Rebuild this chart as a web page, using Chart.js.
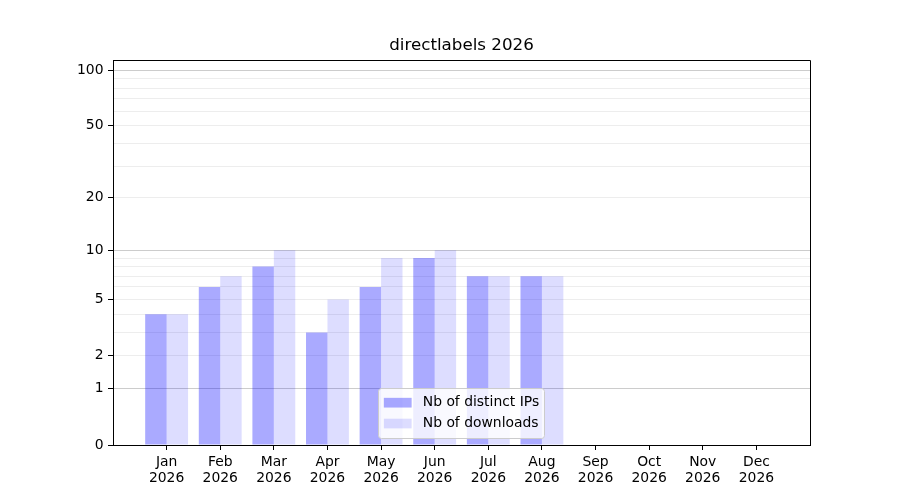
<!DOCTYPE html>
<html>
<head>
<meta charset="utf-8">
<script src="https://cdn.jsdelivr.net/npm/chart.js@4.4.1/dist/chart.umd.min.js"></script>
<style>
  html, body { margin: 0; padding: 0; background: #fff; }
</style>
</head>
<body>
<canvas id="myChart" width="900" height="500"></canvas>
<script>
const categories = ['Jan 2026', 'Feb 2026', 'Mar 2026', 'Apr 2026', 'May 2026', 'Jun 2026',
                    'Jul 2026', 'Aug 2026', 'Sep 2026', 'Oct 2026', 'Nov 2026', 'Dec 2026'];
const distinctIps = [4, 6, 8, 3, 6, 9, 7, 7, 0, 0, 0, 0];
const downloads = [4, 7, 10, 5, 9, 10, 7, 7, 0, 0, 0, 0];
const yTickLabels = [0, 1, 2, 5, 10, 20, 50, 100];
const yMajorGrid = [1, 10, 100];
const yMinorGrid = [2, 3, 4, 5, 6, 7, 8, 9, 20, 30, 40, 50, 60, 70, 80, 90];

Chart.defaults.font.family = "'DejaVu Sans', sans-serif";
Chart.defaults.color = '#000';

// value axis spaced like log10(v + 1), so 0 can sit at the bottom
class Log1pScale extends Chart.Scale {
    determineDataLimits() {
        const { min, max } = this.getMinMax(true);
        this.min = this.options.min ?? Math.min(0, min);
        this.max = this.options.max ?? max;
    }
    buildTicks() {
        const vals = [...new Set(this.options.values)].sort((a, b) => a - b);
        return vals.filter(v => v >= this.min && v <= this.max).map(v => ({ value: v }));
    }
    configure() {
        super.configure();
        this._start = Math.log10(this.min + 1);
        this._range = Math.log10(this.max + 1) - this._start;
    }
    getLabelForValue(v) {
        return String(v);
    }
    getPixelForValue(v) {
        if (v === undefined || v === null || isNaN(v)) return NaN;
        return this.getPixelForDecimal((Math.log10(v + 1) - this._start) / this._range);
    }
    getValueForPixel(p) {
        return Math.pow(10, this._start + this.getDecimalForPixel(p) * this._range) - 1;
    }
}
Log1pScale.id = 'log1p';
Log1pScale.defaults = {};
Chart.register(Log1pScale);

// top/right spines + matplotlib style legend box at lower center
const framePlugin = {
    id: 'frame',
    afterDraw(chart) {
        const { ctx, chartArea: a } = chart;
        ctx.save();
        ctx.strokeStyle = '#000';
        ctx.lineWidth = 1;
        ctx.beginPath();
        ctx.moveTo(Math.round(a.left) + 0.5, Math.round(a.top) + 0.5);
        ctx.lineTo(Math.round(a.right) + 0.5, Math.round(a.top) + 0.5);
        ctx.lineTo(Math.round(a.right) + 0.5, Math.round(a.bottom) + 0.5);
        ctx.stroke();

        const fs = 13.9;
        ctx.font = fs + "px 'DejaVu Sans', sans-serif";
        const sets = chart.data.datasets;
        const textW = Math.max(...sets.map(d => ctx.measureText(d.label).width));
        const pad = 0.4 * fs, handle = 2 * fs, gap = 0.8 * fs, rowGap = 0.5 * fs, rowH = fs;
        const w = pad * 2 + handle + gap + textW;
        const h = pad * 2 + rowH * sets.length + rowGap * (sets.length - 1) + 4;
        const x0 = (a.left + a.right) / 2 - w / 2;
        const y0 = a.bottom - 0.5 * fs - h;
        ctx.beginPath();
        ctx.roundRect(Math.round(x0) + 0.5, Math.round(y0) + 0.5, Math.round(w), Math.round(h), 3);
        ctx.fillStyle = 'rgba(255,255,255,0.8)';
        ctx.fill();
        ctx.strokeStyle = '#cccccc';
        ctx.stroke();
        ctx.textBaseline = 'middle';
        sets.forEach((d, i) => {
            const cy = y0 + pad + 2 + i * (rowH + rowGap) + rowH / 2;
            ctx.fillStyle = d.backgroundColor;
            ctx.fillRect(x0 + pad, cy - 0.35 * fs, handle, 0.7 * fs);
            ctx.fillStyle = '#000';
            ctx.fillText(d.label, x0 + pad + handle + gap, cy);
        });
        ctx.restore();
    }
};

const config = {
    type: 'bar',
    data: {
        datasets: [{
            label: 'Nb of distinct IPs',
            data: distinctIps.map((v, i) => ({ x: i, y: v })),
            backgroundColor: 'rgba(0, 0, 255, 0.333)',
            borderWidth: 0,
            barPercentage: 1,
            categoryPercentage: 0.8,
        }, {
            label: 'Nb of downloads',
            data: downloads.map((v, i) => ({ x: i, y: v })),
            backgroundColor: 'rgba(0, 0, 255, 0.133)',
            borderWidth: 0,
            barPercentage: 1,
            categoryPercentage: 0.8,
        }]
    },
    options: {
        responsive: false,
        animation: false,
        layout: { padding: { left: 0, right: 90, top: 0, bottom: 0 } },
        plugins: {
            legend: { display: false },
            tooltip: { enabled: false },
            title: {
                display: true,
                text: 'directlabels 2026',
                fullSize: false,
                color: '#000',
                font: { size: 16.7, weight: 'normal', lineHeight: 1.2 },
                padding: { top: 36, bottom: 4 }
            }
        },
        scales: {
            x: {
                type: 'linear',
                min: -1,
                max: 12,
                offset: false,
                grid: {
                    offset: false,
                    drawOnChartArea: false,
                    drawTicks: true,
                    tickLength: 5,
                    tickColor: '#000'
                },
                border: { display: true, color: '#000', width: 1 },
                ticks: {
                    autoSkip: false,
                    maxRotation: 0,
                    padding: 5,
                    color: '#000',
                    font: { size: 13.9, lineHeight: 1.1 },
                    callback: v => categories[v] ? categories[v].split(' ') : ''
                },
                afterBuildTicks: s => { s.ticks = categories.map((c, i) => ({ value: i })); },
                afterFit: s => { s.height = 55; }
            },
            y: {
                type: 'log1p',
                min: 0,
                max: 113.5,
                values: [0, ...yMajorGrid, ...yMinorGrid],
                grid: {
                    lineWidth: 1,
                    tickLength: 5,
                    color: c => {
                        const v = c.tick ? c.tick.value : null;
                        if (v === 0) return 'rgba(0,0,0,0)';
                        return yMajorGrid.includes(v) ? '#cccccc' : '#ededed';
                    },
                    tickColor: c => (c.tick && yTickLabels.includes(c.tick.value)) ? '#000' : 'rgba(0,0,0,0)'
                },
                border: { display: true, color: '#000', width: 1 },
                ticks: {
                    autoSkip: false,
                    padding: 4.5,
                    color: '#000',
                    font: { size: 13.9 },
                    callback: v => yTickLabels.includes(v) ? String(v) : ''
                },
                afterFit: s => { s.width = 113; }
            }
        }
    },
    plugins: [framePlugin]
};

var myChart = new Chart(
    document.getElementById('myChart'),
    config
);
</script>
</body>
</html>
